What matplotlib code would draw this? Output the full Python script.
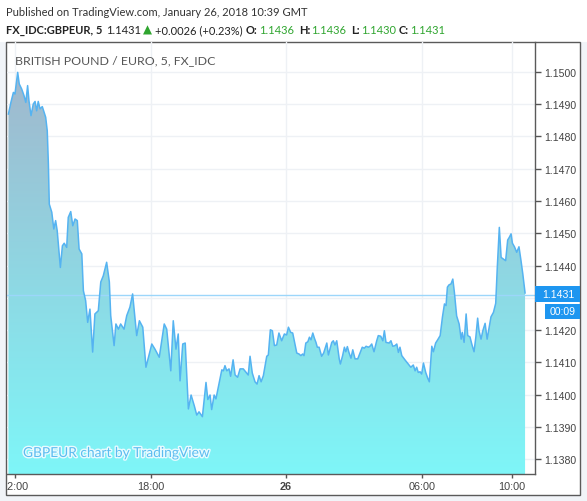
import numpy as np
import matplotlib
matplotlib.use('Agg')
from matplotlib import pyplot as plt
from matplotlib.patches import Rectangle
from matplotlib.transforms import Bbox, TransformedBbox
import matplotlib.patheffects as pe

# hours since 00:00 Jan 25 (GMT), 5-minute GBPEUR closes
hours = [11.70, 11.81, 11.92, 11.99, 12.11, 12.18, 12.29, 12.39, 12.47, 12.55,
         12.61, 12.70, 12.80, 12.88, 12.95, 13.02, 13.10, 13.20, 13.28, 13.35,
         13.42, 13.47, 13.51, 13.62, 13.71, 13.79, 13.86, 13.95, 14.00, 14.09,
         14.17, 14.28, 14.35, 14.46, 14.55, 14.65, 14.75, 14.83, 14.95, 15.02,
         15.12, 15.21, 15.31, 15.43, 15.53, 15.68, 15.79, 15.90, 16.05, 16.17,
         16.23, 16.38, 16.46, 16.57, 16.67, 16.82, 16.94, 17.08, 17.20, 17.38,
         17.50, 17.65, 17.79, 18.05, 18.19, 18.38, 18.60, 18.71, 18.89, 19.00,
         19.12, 19.22, 19.30, 19.42, 19.53, 19.67, 19.79, 19.93, 20.04, 20.14,
         20.29, 20.45, 20.53, 20.63, 20.70, 20.81, 20.89, 21.04, 21.15, 21.22,
         21.29, 21.37, 21.47, 21.54, 21.65, 21.74, 21.85, 21.96, 22.10, 22.25,
         22.32, 22.40, 22.50, 22.62, 22.71, 22.80, 22.89, 22.99, 23.14, 23.21,
         23.30, 23.39, 23.48, 23.58, 23.68, 23.80, 23.92, 24.02, 24.10, 24.20,
         24.29, 24.39, 24.47, 24.57, 24.65, 24.73, 24.79, 24.87, 24.96, 25.03,
         25.10, 25.18, 25.25, 25.32, 25.38, 25.46, 25.57, 25.66, 25.80, 25.87,
         25.94, 26.02, 26.09, 26.16, 26.24, 26.35, 26.40, 26.50, 26.58, 26.64,
         26.71, 26.78, 26.87, 26.95, 27.05, 27.17, 27.27, 27.37, 27.46, 27.54,
         27.64, 27.71, 27.79, 27.89, 28.01, 28.08, 28.19, 28.28, 28.35, 28.42,
         28.56, 28.64, 28.72, 28.82, 28.90, 28.97, 29.04, 29.12, 29.26, 29.41,
         29.52, 29.63, 29.71, 29.78, 29.85, 29.93, 30.00, 30.08, 30.18, 30.27,
         30.34, 30.45, 30.52, 30.62, 30.71, 30.82, 30.92, 31.01, 31.08, 31.14,
         31.21, 31.30, 31.38, 31.45, 31.55, 31.66, 31.75, 31.80, 31.88, 31.97,
         32.04, 32.14, 32.22, 32.32, 32.40, 32.48, 32.54, 32.63, 32.71, 32.81,
         32.90, 32.99, 33.07, 33.18, 33.28, 33.35, 33.44, 33.52, 33.62, 33.72,
         33.81, 33.88, 33.96, 34.02, 34.11, 34.21, 34.31, 34.40, 34.48, 34.58]

price = [1.14869, 1.14905, 1.14936, 1.14931, 1.14998, 1.14962, 1.14946, 1.14926, 1.14905, 1.14957,
         1.14910, 1.14864, 1.14900, 1.14908, 1.14879, 1.14908, 1.14885, 1.14892, 1.14874, 1.14859,
         1.14817, 1.14714, 1.14590, 1.14565, 1.14513, 1.14539, 1.14508, 1.14436, 1.14394, 1.14461,
         1.14469, 1.14456, 1.14549, 1.14567, 1.14523, 1.14544, 1.14539, 1.14451, 1.14436, 1.14322,
         1.14291, 1.14224, 1.14265, 1.14132, 1.14250, 1.14260, 1.14349, 1.14368, 1.14410, 1.14349,
         1.14245, 1.14152, 1.14219, 1.14203, 1.14219, 1.14203, 1.14245, 1.14271, 1.14312, 1.14183,
         1.14229, 1.14209, 1.14085, 1.14157, 1.14141, 1.14116, 1.14219, 1.14203, 1.14074, 1.14229,
         1.14141, 1.14188, 1.14043, 1.14157, 1.14160, 1.13956, 1.13999, 1.13966, 1.13937, 1.13947,
         1.13932, 1.14038, 1.13985, 1.13999, 1.13954, 1.13999, 1.13987, 1.14038, 1.14077, 1.14074,
         1.14090, 1.14074, 1.14080, 1.14057, 1.14108, 1.14061, 1.14054, 1.14080, 1.14080, 1.14067,
         1.14061, 1.14119, 1.14067, 1.14040, 1.14033, 1.14059, 1.14040, 1.14059, 1.14119, 1.14123,
         1.14201, 1.14198, 1.14152, 1.14154, 1.14191, 1.14167, 1.14188, 1.14185, 1.14209, 1.14193,
         1.14191, 1.14157, 1.14129, 1.14126, 1.14121, 1.14126, 1.14121, 1.14160, 1.14164, 1.14178,
         1.14170, 1.14191, 1.14175, 1.14162, 1.14147, 1.14147, 1.14119, 1.14129, 1.14160, 1.14123,
         1.14141, 1.14162, 1.14167, 1.14154, 1.14167, 1.14111, 1.14095, 1.14121, 1.14147, 1.14133,
         1.14149, 1.14131, 1.14113, 1.14139, 1.14111, 1.14111, 1.14129, 1.14147, 1.14144, 1.14150,
         1.14147, 1.14150, 1.14157, 1.14133, 1.14167, 1.14183, 1.14181, 1.14167, 1.14198, 1.14162,
         1.14160, 1.14167, 1.14150, 1.14152, 1.14157, 1.14131, 1.14147, 1.14121, 1.14108, 1.14095,
         1.14085, 1.14092, 1.14074, 1.14085, 1.14069, 1.14071, 1.14064, 1.14098, 1.14069, 1.14051,
         1.14040, 1.14150, 1.14133, 1.14160, 1.14170, 1.14183, 1.14240, 1.14281, 1.14276, 1.14333,
         1.14340, 1.14343, 1.14358, 1.14317, 1.14244, 1.14219, 1.14172, 1.14193, 1.14162, 1.14250,
         1.14183, 1.14179, 1.14157, 1.14133, 1.14178, 1.14237, 1.14198, 1.14172, 1.14198, 1.14221,
         1.14172, 1.14209, 1.14241, 1.14255, 1.14283, 1.14394, 1.14518, 1.14425, 1.14420, 1.14415,
         1.14479, 1.14487, 1.14498, 1.14469, 1.14458, 1.14441, 1.14458, 1.14415, 1.14374, 1.14315]

x_ticks = [12, 18, 24, 30, 34]
x_labels = ["12:00", "18:00", "26", "06:00", "10:00"]
y_ticks = [1.1380 + 0.001 * i for i in range(13)]
last_price = 1.1431

W, H = 587, 502
fig = plt.figure(figsize=(W / 100, H / 100), dpi=100, facecolor='white')


def fx(x):
    return x / W


def fy(y):
    return 1 - y / H


# light backdrop round the chart frame, then the frame itself
fig.add_artist(Rectangle((0, 0), 1, fy(43), transform=fig.transFigure,
                         facecolor='#f1f4f8', edgecolor='none', zorder=-3))
fig.add_artist(Rectangle((fx(6), fy(496)), fx(574), (496 - 43) / H, transform=fig.transFigure,
                         facecolor='white', edgecolor='#5a5a5a', lw=1, zorder=-2))

ax = fig.add_axes([fx(7), fy(475), fx(528), (475 - 43) / H])
ax.set_facecolor('none')
xlim = (11.637, 35.02)
ylim = (1.137545, 1.150920)

# gradient area under the line
poly = ax.fill_between(hours, price, ylim[0], facecolor='none', edgecolor='none')
top_c = np.array([163, 179, 202]) / 255
bot_c = np.array([126, 246, 248]) / 255
g = np.linspace(0, 1, 256)[:, None, None]
grad = bot_c * (1 - g) + top_c * g
img = ax.imshow(grad, extent=[xlim[0], xlim[1], ylim[0], ylim[1]], origin='lower',
                aspect='auto', zorder=1, interpolation='bilinear')
img.set_clip_path(poly.get_paths()[0], transform=ax.transData)
ax.plot(hours, price, color='#55b3f1', lw=1.1, zorder=3)
ax.axhline(last_price, color='#9cd6fa', lw=1, zorder=2)

ax.set_xlim(*xlim)
ax.set_ylim(*ylim)

ax.set_xticks(x_ticks)
ax.set_xticklabels(x_labels, family='Liberation Sans', fontsize=7.8, color='#444444')
ax.get_xticklabels()[2].set_fontweight('bold')
ax.set_yticks(y_ticks)
# the 1.1430 label sits under the live price tag, so it is not shown
ax.set_yticklabels(['' if abs(v - 1.143) < 1e-6 else '%.4f' % v for v in y_ticks],
                   family='Liberation Sans', fontsize=7.6, color='#444444')
ax.yaxis.tick_right()
ax.tick_params(axis='x', length=3, width=1, color='#555555', pad=2)
ax.tick_params(axis='y', length=4, width=1, color='#555555', pad=2.5)
ax.grid(True, color='#eef1f5', lw=1, zorder=0)
ax.set_axisbelow(True)
for s in ['top', 'left']:
    ax.spines[s].set_visible(False)
for s in ['right', 'bottom']:
    ax.spines[s].set_color('#5a5a5a')
    ax.spines[s].set_linewidth(1)

# clip the first time label at the frame edge, as in the screenshot
clip = TransformedBbox(Bbox.from_extents(fx(6.5), 0, fx(580), 1), fig.transFigure)
for lbl in ax.get_xticklabels():
    lbl.set_clip_box(clip)
    lbl.set_clip_on(True)

# title and watermark
ax.text(fx(15 - 7) / fx(528), (475 - 61) / 432, 'BRITISH POUND / EURO, 5, FX_IDC',
        transform=ax.transAxes, family='Lato', fontsize=8.9, color='#555555',
        va='center', ha='left', zorder=5)
ax.text(fx(23 - 7) / fx(528), (475 - 454) / 432, 'GBPEUR chart by TradingView',
        transform=ax.transAxes, family='Lato', fontsize=9.9, color='#5cbcf0',
        va='center', ha='left', zorder=5,
        path_effects=[pe.withStroke(linewidth=2, foreground='#e8fbff')])

# price tag and countdown on the right scale
fig.add_artist(Rectangle((fx(535), fy(302.5)), fx(45), 16 / H, transform=fig.transFigure,
                         facecolor='#1e96f0', edgecolor='none', zorder=5))
fig.text(fx(558), fy(294.5), '%.4f' % last_price, color='white', family='Liberation Sans',
         fontsize=7.6, ha='center', va='center', zorder=6)
fig.add_artist(Rectangle((fx(545), fy(319.5)), fx(35), 15 / H, transform=fig.transFigure,
                         facecolor='#1e96f0', edgecolor='none', zorder=5))
fig.text(fx(562.5), fy(312), '00:09', color='white', family='Liberation Sans',
         fontsize=7.6, ha='center', va='center', zorder=6)

# header
hdr = dict(family='Lato', fontsize=8.0, va='center', ha='left')
fig.text(fx(6), fy(12.5), 'Published on TradingView.com, January 26, 2018 10:39 GMT',
         color='#333333', **hdr)
green = '#2fa52f'
pieces = [(6, 'FX_IDC:GBPEUR, 5', '#222222', 'bold'),
          (106, '1.1431', '#222222', 'normal'),
          (155, '+0.0026 (+0.23%)', '#222222', 'normal'),
          (246, 'O:', '#222222', 'bold'),
          (259, '1.1436', green, 'normal'),
          (299, 'H:', '#222222', 'bold'),
          (311, '1.1436', green, 'normal'),
          (351, 'L:', '#222222', 'bold'),
          (361, '1.1430', green, 'normal'),
          (399, 'C:', '#222222', 'bold'),
          (410, '1.1431', green, 'normal')]
for x, s, c, w in pieces:
    fig.text(fx(x), fy(30.5), s, color=c, fontweight=w, **hdr)
fig.text(fx(147.5), fy(30.5), '\u25b2', color=green, fontsize=8.5, family='DejaVu Sans',
         ha='center', va='center')

fig.savefig('out.png', dpi=100, facecolor='white')
